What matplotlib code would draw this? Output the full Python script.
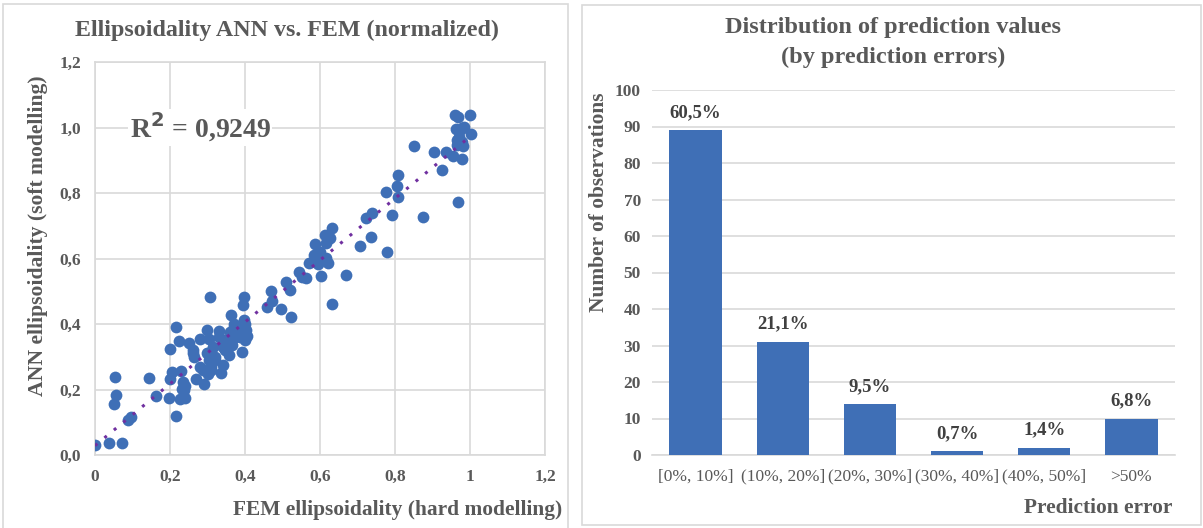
import matplotlib

matplotlib.use("Agg")
import matplotlib.pyplot as plt
import numpy as np
from matplotlib.patches import Rectangle
from matplotlib.ticker import FuncFormatter

plt.rcParams["font.family"] = ["Liberation Serif", "DejaVu Serif"]
plt.rcParams["font.weight"] = "bold"

# --- scatter data ---
fem_x = [0.00, 0.036, 0.073, 0.088, 0.095, 0.05, 0.056, 0.054, 0.144, 0.162,
         0.198, 0.215, 0.200, 0.205, 0.199, 0.217, 0.223, 0.23, 0.234, 0.231,
         0.226, 0.24, 0.238, 0.251, 0.261, 0.265, 0.268, 0.281, 0.29, 0.288,
         0.299, 0.303, 0.306, 0.298, 0.303, 0.301, 0.309, 0.315, 0.321, 0.331,
         0.336, 0.34, 0.348, 0.357, 0.36, 0.363, 0.366, 0.37, 0.373, 0.383,
         0.393, 0.394, 0.398, 0.398, 0.403, 0.401, 0.405, 0.391, 0.388, 0.459,
         0.47, 0.473, 0.496, 0.523, 0.509, 0.52, 0.543, 0.551, 0.563, 0.57,
         0.586, 0.583, 0.593, 0.594, 0.602, 0.612, 0.615, 0.62, 0.616, 0.626,
         0.632, 0.632, 0.669, 0.706, 0.723, 0.74, 0.737, 0.776, 0.78, 0.793,
         0.805, 0.807, 0.808, 0.851, 0.875, 0.903, 0.925, 0.937, 0.954, 0.961,
         0.967, 1.0, 0.963, 0.983, 0.973, 1.003, 0.965, 0.979, 0.981, 0.965,
         0.979, 0.969,
         0.35, 0.37, 0.39, 0.32, 0.34, 0.28, 0.31, 0.38, 0.40, 0.30,
         0.60, 0.62, 0.97, 0.98, 0.24, 0.26, 0.36, 0.33]
ann_y = [0.031, 0.038, 0.038, 0.108, 0.115, 0.156, 0.182, 0.239, 0.234, 0.179,
         0.175, 0.119, 0.231, 0.252, 0.324, 0.391, 0.348, 0.256, 0.223, 0.202,
         0.171, 0.175, 0.197, 0.341, 0.32, 0.298, 0.233, 0.354, 0.218, 0.259,
         0.382, 0.353, 0.482, 0.31, 0.29, 0.248, 0.269, 0.331, 0.30, 0.38,
         0.251, 0.274, 0.32, 0.305, 0.377, 0.428, 0.336, 0.392, 0.361, 0.371,
         0.316, 0.459, 0.483, 0.413, 0.382, 0.351, 0.363, 0.394, 0.361, 0.452,
         0.50, 0.471, 0.446, 0.421, 0.529, 0.503, 0.559, 0.544, 0.539, 0.586,
         0.644, 0.611, 0.613, 0.582, 0.546, 0.671, 0.603, 0.585, 0.648, 0.662,
         0.692, 0.462, 0.549, 0.638, 0.725, 0.74, 0.666, 0.802, 0.619, 0.734,
         0.82, 0.855, 0.787, 0.945, 0.728, 0.924, 0.87, 0.924, 0.914, 1.039,
         1.031, 1.039, 0.995, 1.003, 0.993, 0.979, 0.962, 0.957, 0.945, 0.947,
         0.903, 0.774,
         0.35, 0.40, 0.38, 0.29, 0.33, 0.27, 0.26, 0.37, 0.40, 0.31,
         0.62, 0.66, 0.97, 1.00, 0.21, 0.31, 0.34, 0.36]
r2_text = "R$^2$ = 0,9249"

# --- bar data ---
error_bins = ["[0%, 10%]", "(10%, 20%]", "(20%, 30%]", "(30%, 40%]", "(40%, 50%]", ">50%"]
counts = [89, 31, 14, 1, 2, 10]
shares = ["60,5%", "21,1%", "9,5%", "0,7%", "1,4%", "6,8%"]

TXT = "#595959"
GRID = "#D9D9D9"
BLUE = "#3F6FB6"


def comma(v, _):
    return f"{v:.1f}".replace(".", ",")


def comma_x(v, _):
    if abs(v - round(v)) < 1e-9:
        return f"{int(round(v))}"
    return f"{v:.1f}".replace(".", ",")


fig = plt.figure(figsize=(12.03, 5.28), dpi=100)
W, H = 1203, 528

# panel frames
fig.add_artist(Rectangle((3 / W, -0.01), 565 / W, 1 - 4 / H + 0.01, transform=fig.transFigure,
                         fill=False, edgecolor=GRID, lw=1.2))
fig.add_artist(Rectangle((582 / W, 0.005), 619 / W, 1 - 5 / H - 0.005, transform=fig.transFigure,
                         fill=False, edgecolor=GRID, lw=1.2))

# ---------- left: scatter ----------
ax1 = fig.add_axes([95 / W, (H - 455) / H, 450 / W, 393 / H])
ax1.scatter(fem_x, ann_y, s=72, color=BLUE, zorder=3, linewidths=0)
k, b = np.polyfit(fem_x, ann_y, 1)
xx = np.array([0.0, 1.0])
ax1.plot(xx, k * xx + b, linestyle=(0, (1, 3)), color="#7030A0", lw=2.2, zorder=4)
ax1.set_xlim(0, 1.2)
ax1.set_ylim(0, 1.2)
ax1.set_xticks(np.arange(0, 1.21, 0.2))
ax1.set_yticks(np.arange(0, 1.21, 0.2))
ax1.xaxis.set_major_formatter(FuncFormatter(comma_x))
ax1.yaxis.set_major_formatter(FuncFormatter(comma))
ax1.grid(True, color=GRID, lw=1.2)
ax1.set_axisbelow(True)
for s in ax1.spines.values():
    s.set_color(GRID)
    s.set_linewidth(1.2)
ax1.tick_params(length=0, labelsize=12.5, colors=TXT, pad=10)
ax1.text(0.093, 1.0, r2_text, fontsize=20, color=TXT, va="center", ha="left",
         bbox=dict(facecolor="white", edgecolor="none", pad=1), zorder=5)
fig.text(287 / W, 1 - 30 / H, "Ellipsoidality ANN vs. FEM (normalized)", ha="center",
         va="center", fontsize=17.3, color=TXT)
fig.text(562 / W, 1 - 510 / H, "FEM ellipsoidality (hard modelling)", ha="right",
         va="center", fontsize=15.4, color=TXT)
fig.text(38 / W, 1 - 236 / H, "ANN ellipsoidality (soft modelling)", ha="center",
         va="center", rotation=90, fontsize=15.6, color=TXT)

# ---------- right: bars ----------
ax2 = fig.add_axes([652 / W, (H - 455) / H, 523 / W, 365 / H])
pos = np.arange(len(error_bins))
bars = ax2.bar(pos, counts, width=0.6, color=BLUE, zorder=3)
for rect, lab in zip(bars, shares):
    ax2.text(rect.get_x() + rect.get_width() / 2, rect.get_height() + 2.5, lab,
             ha="center", va="bottom", fontsize=13.5, color="#404040")
ax2.set_xlim(-0.5, len(error_bins) - 0.5)
ax2.set_ylim(0, 100)
ax2.set_yticks(range(0, 101, 10))
ax2.set_xticks(pos)
ax2.set_xticklabels(error_bins, fontweight="normal")
ax2.grid(True, axis="y", color=GRID, lw=1.2)
ax2.set_axisbelow(True)
for side in ["left", "right", "top"]:
    ax2.spines[side].set_visible(False)
ax2.spines["bottom"].set_color(GRID)
ax2.spines["bottom"].set_linewidth(1.2)
ax2.tick_params(axis="y", length=0, labelsize=12.5, colors=TXT, pad=8)
ax2.tick_params(axis="x", length=0, labelsize=12.5, colors=TXT, pad=10)
fig.text(893 / W, 1 - 28 / H, "Distribution of prediction values", ha="center",
         va="center", fontsize=17.5, color=TXT)
fig.text(893 / W, 1 - 57 / H, "(by prediction errors)", ha="center",
         va="center", fontsize=17.5, color=TXT)
fig.text(1172 / W, 1 - 508 / H, "Prediction error", ha="right",
         va="center", fontsize=15.4, color=TXT)
fig.text(599 / W, 1 - 202 / H, "Number of observations", ha="center",
         va="center", rotation=90, fontsize=15.4, color=TXT)

fig.savefig("out.png", dpi=100)
